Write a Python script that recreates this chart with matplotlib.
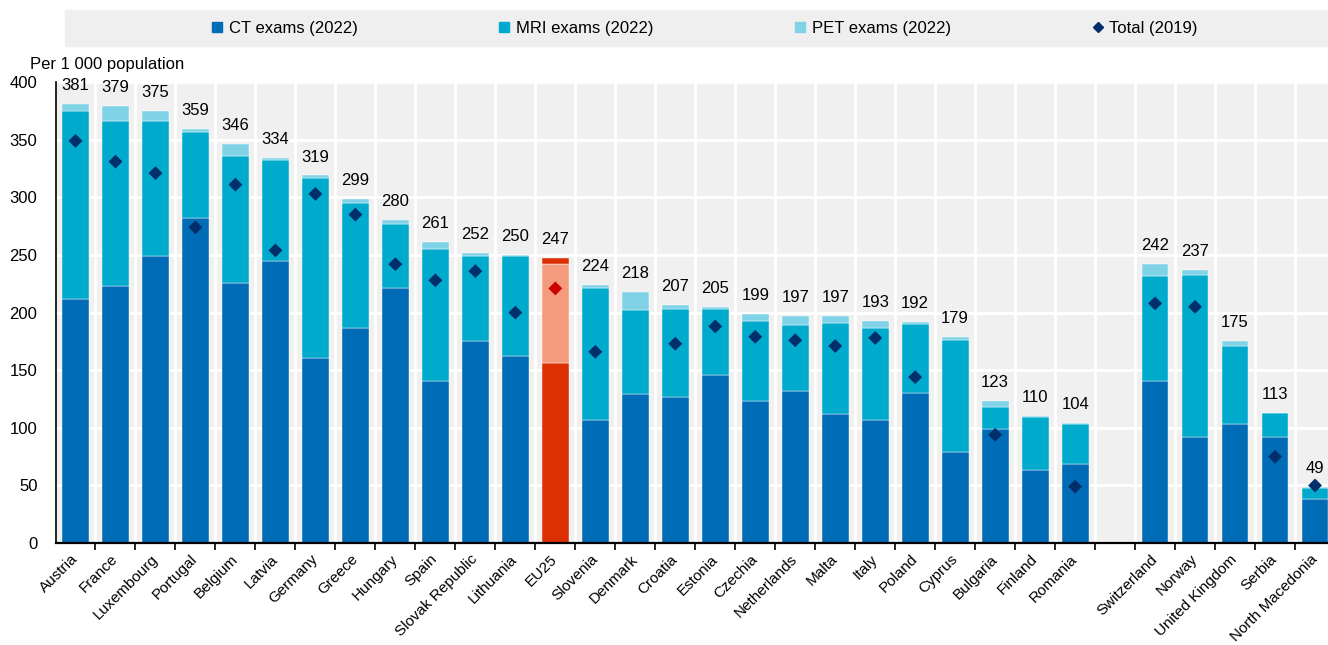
import numpy as np
import matplotlib.pyplot as plt
from matplotlib.lines import Line2D
from matplotlib.patches import Rectangle

plt.rcParams['font.family'] = ['Liberation Sans Narrow', 'Liberation Sans', 'DejaVu Sans']

# EU countries (incl. EU25 average) first, then non-EU countries after a gap
countries = ['Austria', 'France', 'Luxembourg', 'Portugal', 'Belgium', 'Latvia',
             'Germany', 'Greece', 'Hungary', 'Spain', 'Slovak Republic', 'Lithuania',
             'EU25', 'Slovenia', 'Denmark', 'Croatia', 'Estonia', 'Czechia',
             'Netherlands', 'Malta', 'Italy', 'Poland', 'Cyprus', 'Bulgaria',
             'Finland', 'Romania',
             'Switzerland', 'Norway', 'United Kingdom', 'Serbia', 'North Macedonia']
ct = [212, 223, 249, 282, 226, 245, 161, 187, 221, 141, 175, 162, 156, 107, 129, 127,
      146, 123, 132, 112, 107, 130, 79, 99, 63, 69,
      141, 92, 103, 92, 38]
mri = [163, 143, 117, 75, 110, 87, 156, 108, 56, 114, 74, 87, 86, 114, 73, 76,
       57, 70, 57, 79, 80, 60, 97, 19, 46, 34,
       91, 141, 68, 21, 10]
pet = [6, 13, 9, 2, 10, 2, 2, 4, 3, 6, 3, 1, 5, 3, 16, 4,
       2, 6, 8, 6, 6, 2, 3, 5, 1, 1,
       10, 4, 4, 0, 1]
total_2019 = [349, 331, 321, 274, 311, 254, 303, 285, 242, 228, 236, 200, 221, 166, np.nan, 173,
              188, 179, 176, 171, 178, 144, np.nan, 94, np.nan, 49,
              208, 205, np.nan, 75, 50]
n_eu = 26

ct = np.array(ct)
mri = np.array(mri)
pet = np.array(pet)
total = ct + mri + pet

pos = np.array(list(range(n_eu)) + list(range(n_eu + 1, len(countries) + 1)))
is_eu25 = np.array([c == 'EU25' for c in countries])

c_ct = np.where(is_eu25, '#DC2F02', '#006BB6')
c_mri = np.where(is_eu25, '#F59B7D', '#00AACC')
c_pet = np.where(is_eu25, '#DC2F02', '#80D3E6')
c_tot = np.where(is_eu25, '#CC0000', '#002F6C')

fig = plt.figure(figsize=(13.28, 6.45), dpi=100)
ax = fig.add_axes([0.0418, 0.158, 0.9635, 0.7147])
ax.set_facecolor('#F0F0F0')

w = 0.67
ax.bar(pos, ct, w, color=c_ct, edgecolor='white', linewidth=0.3)
ax.bar(pos, mri, w, bottom=ct, color=c_mri, edgecolor='white', linewidth=0.3)
ax.bar(pos, pet, w, bottom=ct + mri, color=c_pet, edgecolor='white', linewidth=0.3)
ax.scatter(pos, total_2019, marker='D', s=50, c=c_tot, zorder=3, linewidths=0)

for x, t in zip(pos, total):
    ax.text(x, t + 16, str(t), ha='center', va='center', fontsize=12, clip_on=False)

ax.set_xlim(-0.5, len(countries) + 0.5)
ax.set_ylim(0, 400)
ax.set_yticks(np.arange(0, 401, 50))
ax.set_xticks(pos)
ax.set_xticklabels(countries, rotation=45, ha='right', va='center', rotation_mode='anchor', fontsize=11)
ax.set_xticks(np.arange(0.5, len(countries) + 0.5, 1), minor=True)

ax.set_axisbelow(True)
ax.yaxis.grid(True, color='white', linewidth=2)
ax.xaxis.grid(True, which='minor', color='white', linewidth=2)
ax.tick_params(axis='x', which='major', length=0, pad=10)
ax.tick_params(axis='x', which='minor', length=5, width=1.2, direction='out')
ax.tick_params(axis='y', length=0, pad=13, labelsize=12)

for s in ['top', 'right']:
    ax.spines[s].set_visible(False)
ax.spines['bottom'].set_linewidth(1.6)
ax.spines['left'].set_linewidth(1.2)

fig.text(30 / 1328, 1 - 65 / 645, 'Per 1 000 population', va='center', fontsize=12)

fig.patches.append(Rectangle((65 / 1328, 1 - 46 / 645), (1328 - 65) / 1328, 36 / 645,
                             transform=fig.transFigure, color='#EFEFEF', zorder=0))
handles = [Line2D([], [], marker='s', ls='', color='#006BB6', markersize=7.5),
           Line2D([], [], marker='s', ls='', color='#00AACC', markersize=7.5),
           Line2D([], [], marker='s', ls='', color='#80D3E6', markersize=7.5),
           Line2D([], [], marker='D', ls='', color='#002F6C', markersize=5.5)]
labels = ['CT exams (2022)', 'MRI exams (2022)', 'PET exams (2022)', 'Total (2019)']
fig.legend(handles, labels, loc='center', bbox_to_anchor=(704 / 1328, 1 - 28 / 645), ncol=4,
           frameon=False, columnspacing=8.4, handletextpad=0.3, handlelength=0.8, fontsize=12)

fig.savefig('out.png', dpi=100)
